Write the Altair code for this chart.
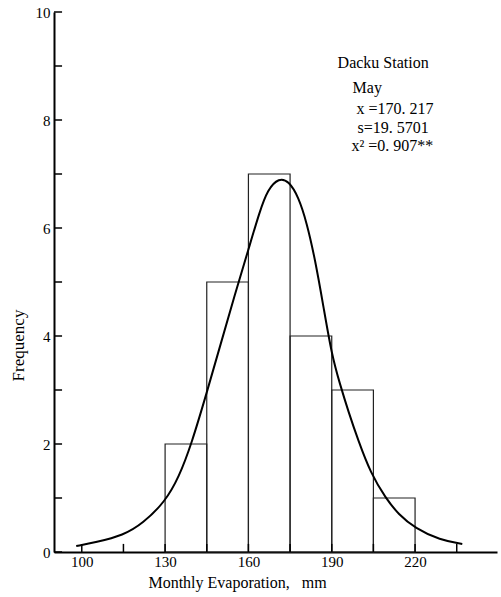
import altair as alt
import pandas as pd

# Histogram bins (monthly evaporation, mm) and frequencies
bin_start = [130, 145, 160, 175, 190, 205]
bin_end = [145, 160, 175, 190, 205, 220]
freq = [2, 5, 7, 4, 3, 1]

# Fitted curve
curve_x = [98, 105, 115, 122, 130, 135, 139.5, 145, 150, 155, 160, 164, 167, 171,
           174.5, 178, 181, 184, 187, 190, 193, 196, 199.5, 204, 209.5, 214, 220, 229, 237]
curve_y = [0.11, 0.18, 0.31, 0.53, 0.93, 1.39, 2.0, 2.95, 3.85, 4.75, 5.6, 6.3, 6.72, 6.93,
           6.87, 6.58, 6.1, 5.42, 4.55, 3.65, 3.1, 2.6, 2.07, 1.46, 0.99, 0.7, 0.44, 0.22, 0.15]

x_tick_values = [100, 115, 130, 145, 160, 175, 190, 205, 220, 235]
x_label_values = [100, 130, 160, 190, 220]
y_tick_values = [0, 1, 2, 3, 4, 5, 6, 7, 8, 9, 10]
y_label_values = [0, 2, 4, 6, 8, 10]

ann_lines = ["Dacku Station", "May", "x =170. 217", "s=19. 5701", "x\u00b2 =0. 907**"]
ann_x = [192.1, 197.5, 198.9, 199.3, 197.1]
ann_y = [9.06, 8.6, 8.2, 7.85, 7.52]

X_DOMAIN = [90, 249.5]
Y_DOMAIN = [0, 10]
FONT = "Liberation Serif"

bars = pd.DataFrame({"start": bin_start, "end": bin_end, "freq": freq})
curve = pd.DataFrame({"x": curve_x, "y": curve_y})
xt = pd.DataFrame({"v": x_tick_values})
yt = pd.DataFrame({"v": y_tick_values})
ann = pd.DataFrame({"t": ann_lines, "x": ann_x, "y": ann_y})

xscale = alt.Scale(domain=X_DOMAIN, nice=False, zero=False)
yscale = alt.Scale(domain=Y_DOMAIN, nice=False)

x_axis = alt.Axis(values=x_label_values, ticks=False, tickSize=0, grid=False,
                  labelFont=FONT, labelFontSize=15, labelPadding=2, labelColor="black",
                  domainColor="black", domainWidth=2,
                  title="Monthly Evaporation,\u00a0\u00a0\u00a0mm", titleFont=FONT, titleFontSize=16,
                  titleFontWeight="normal", titleColor="black",
                  titleX=183, titleY=30, titleAlign="center", titleBaseline="middle")
y_axis = alt.Axis(values=y_label_values, ticks=False, tickSize=0, grid=False,
                  labelFont=FONT, labelFontSize=15, labelPadding=4, labelColor="black",
                  domainColor="black", domainWidth=2,
                  title="Frequency", titleFont=FONT, titleFontSize=17,
                  titleFontWeight="normal", titleColor="black",
                  titleX=-36, titleY=333, titleAngle=-90, titleAlign="center",
                  titleBaseline="middle")

base_bars = alt.Chart(bars).mark_rect(fill="transparent", stroke="#222", strokeWidth=1.2).encode(
    x=alt.X("start:Q", scale=xscale, axis=x_axis),
    x2="end:Q",
    y=alt.Y("freq:Q", scale=yscale, axis=y_axis),
    y2=alt.datum(0),
)

line = alt.Chart(curve).mark_line(color="black", strokeWidth=2, interpolate="basis").encode(
    x=alt.X("x:Q", scale=xscale),
    y=alt.Y("y:Q", scale=yscale),
)

xticks = alt.Chart(xt).mark_rule(color="black", strokeWidth=1.5).encode(
    x=alt.X("v:Q", scale=xscale),
    y=alt.datum(0, scale=yscale),
    y2=alt.datum(0.15),
)

yticks = alt.Chart(yt).mark_rule(color="black", strokeWidth=1.5).encode(
    y=alt.Y("v:Q", scale=yscale),
    x=alt.datum(X_DOMAIN[0], scale=xscale),
    x2=alt.datum(X_DOMAIN[0] + 2.9),
)

text = alt.Chart(ann).mark_text(align="left", baseline="middle", font=FONT, fontSize=16,
                                color="black").encode(
    x=alt.X("x:Q", scale=xscale),
    y=alt.Y("y:Q", scale=yscale),
    text="t:N",
)

chart = alt.layer(base_bars, line, xticks, yticks, text).properties(
    width=443, height=540,
    padding={"left": 54, "top": 12, "right": 4, "bottom": 45},
    autosize=alt.AutoSizeParams(type="none"),
    background="white",
).configure_view(stroke=None)

chart.save("out.html", embed_options={"renderer": "svg", "actions": False})
